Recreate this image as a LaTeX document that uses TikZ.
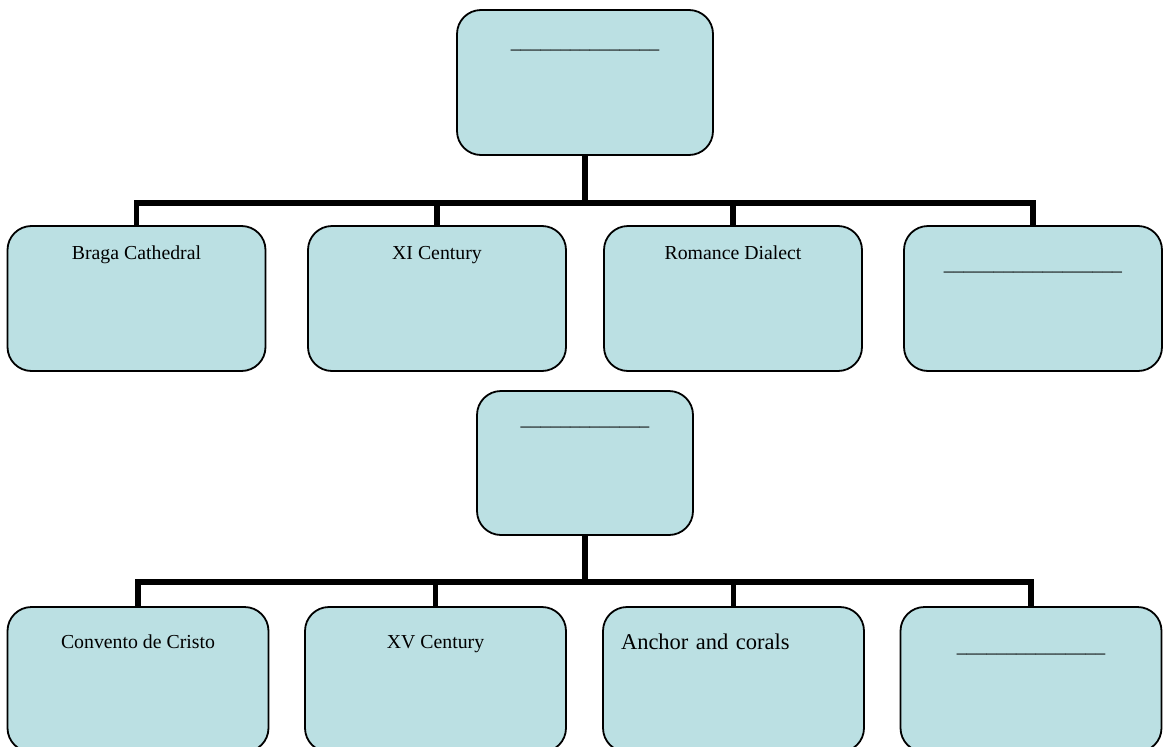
\documentclass[tikz,border=0pt]{standalone}
\usepackage{fontspec}
\setmainfont{Liberation Serif}
\definecolor{boxfill}{RGB}{187,224,227}
\newcommand\fillin[1]{\foreach \k in {1,...,#1}{\_}}
\begin{document}
\begin{tikzpicture}
[x=1pt,y=-1pt,
 boxdecorate/.style={shape=rectangle,draw,fill=boxfill,line width=1.8pt,rounded corners=24pt,
   inner sep=0pt,minimum width=258pt,font=\fontsize{19.8}{24}\selectfont},
 linedecorate/.style={-,line width=5.5pt}]
\useasboundingbox (0,0) rectangle (1168,747);
\clip (0,0) rectangle (1168,747);
%% head nodes
\node (top) at (585,82.5) [boxdecorate,minimum width=256pt,text height=38pt,text depth=107pt] {\fillin{15}};
\node (mid) at (585,463) [boxdecorate,minimum width=216pt,text height=34pt,text depth=110pt] {\fillin{13}};
%% first row
\foreach \nodename/\x/\th/\txt in {a1/136.5/33/Braga Cathedral, a2/437/33/XI Century,
    a3/733/33/Romance Dialect, a4/1033/44/{\fillin{18}}} {
  \node (\nodename) at (\x,298.5) [boxdecorate,text height=\th pt,text depth={145pt-\th pt}] {\txt};
}
%% second row
\foreach \nodename/\x/\th/\txt in {b1/138/41/Convento de Cristo, b2/435.5/41/XV Century,
    b4/1031/45/{\fillin{15}}} {
  \node (\nodename) at (\x,679.5) [boxdecorate,minimum width=261pt,text height=\th pt,text depth={145pt-\th pt}] {\txt};
}
\node (b3) at (733.5,679.5) [boxdecorate,minimum width=261pt,inner xsep=18pt,text width=225pt,align=left,
  text height=42pt,text depth=103pt,font=\fontsize{22.5}{27}\selectfont] {Anchor and corals};
%% bus lines
\coordinate (bus1) at (top.south |- 0,203);
\coordinate (bus2) at (mid.south |- 0,582);
\draw[linedecorate] (top.south) -- (bus1);
\draw[linedecorate] (mid.south) -- (bus2);
\foreach \endnode in {a1,a2,a3,a4} {
  \draw[linedecorate] (bus1) -| (\endnode.north);
}
\foreach \endnode in {b1,b2,b3,b4} {
  \draw[linedecorate] (bus2) -| (\endnode.north);
}
\end{tikzpicture}
\end{document}
